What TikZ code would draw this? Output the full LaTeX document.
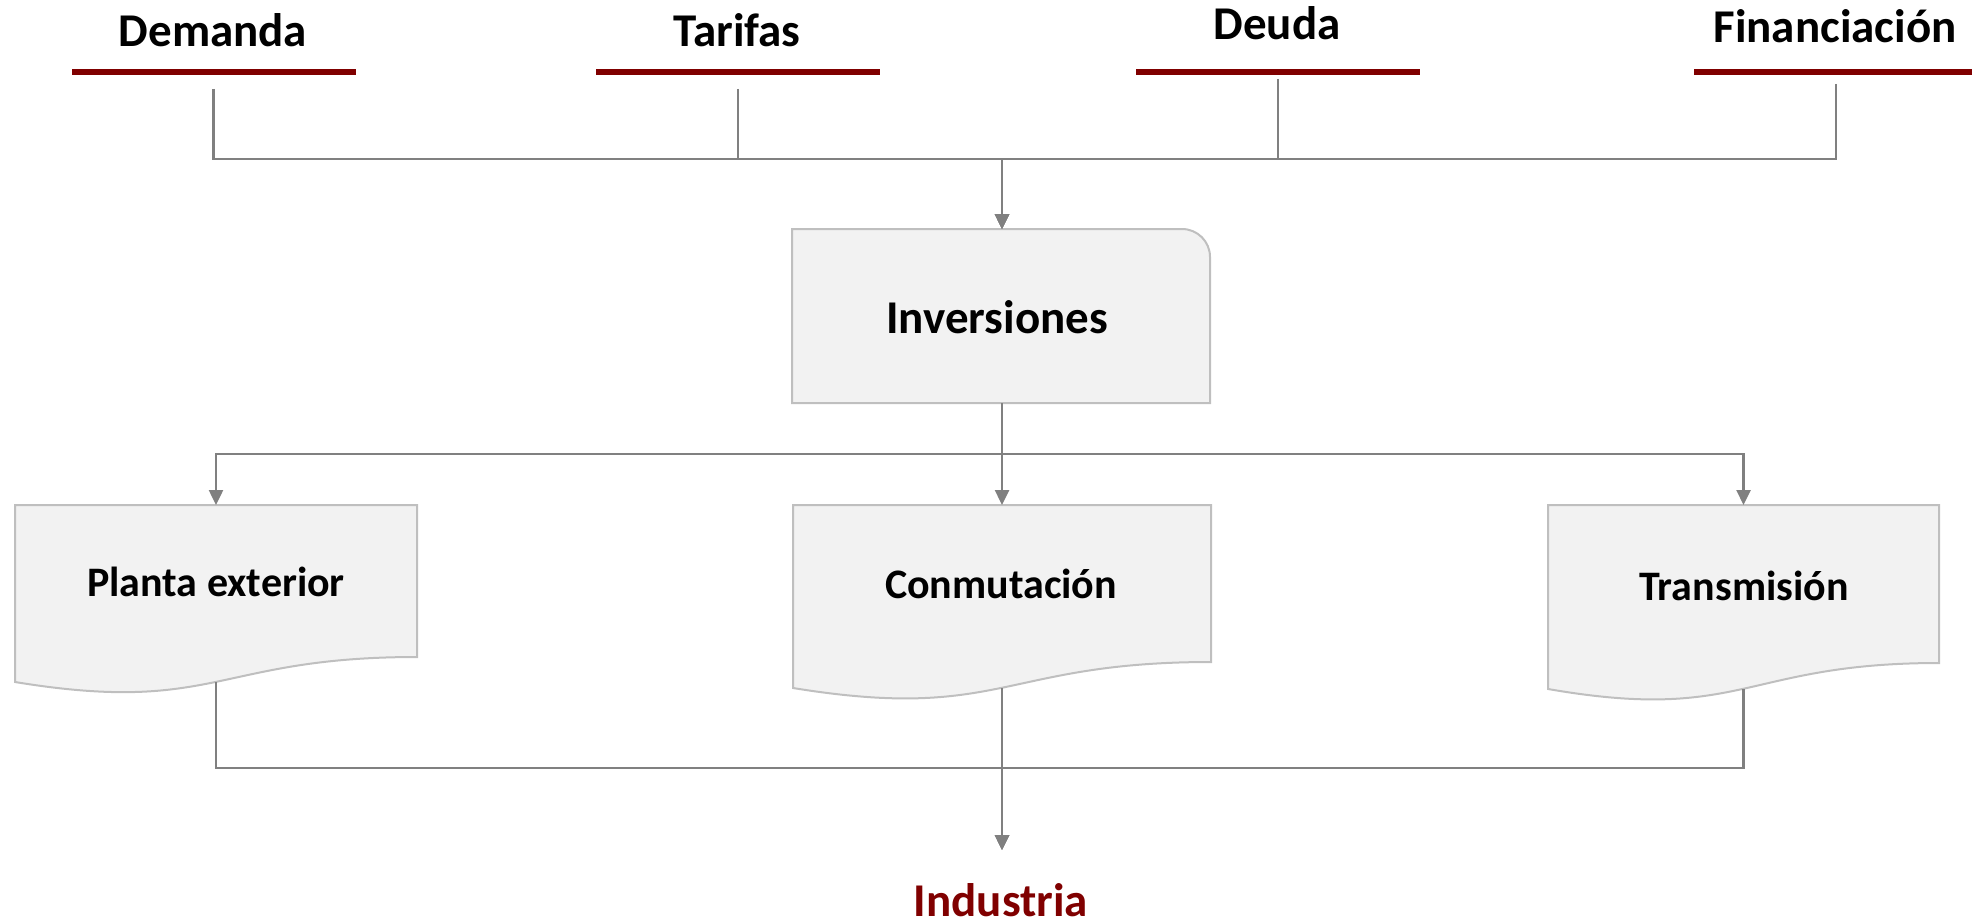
\documentclass[tikz,border=0pt]{standalone}
\usepackage{fontspec}
\setmainfont{Carlito}
\usetikzlibrary{arrows.meta}
\definecolor{darkred}{RGB}{128,0,0}
\definecolor{conncol}{RGB}{128,128,128}
\definecolor{boxfill}{RGB}{242,242,242}
\definecolor{boxline}{RGB}{191,191,191}
\begin{document}
\begin{tikzpicture}[x=1pt,y=-1pt,
  toplabel/.style={font=\fontsize{47}{56}\selectfont\bfseries, anchor=base, inner sep=0pt},
  boxlabel/.style={font=\fontsize{42}{50}\selectfont\bfseries, anchor=base, inner sep=0pt},
  redline/.style={draw=darkred, line width=6pt},
  conn/.style={draw=conncol, line width=2.5pt},
  arr/.style={conn, -{Triangle[length=15pt,width=14pt]}},
  boxshape/.style={draw=boxline, fill=boxfill, line width=2pt}]
\useasboundingbox (0,0) rectangle (1972,923);

% top labels and red rules
\draw[redline] (72,72.5) -- (356,72.5);
\draw[redline] (596,72.5) -- (880,72.5);
\draw[redline] (1136,72.5) -- (1420,72.5);
\draw[redline] (1694,72.5) -- (1972,72.5);
\node[toplabel] (dem) at (213,47) {Demanda};
\node[toplabel] (tar) at (737,47) {Tarifas};
\node[toplabel] (deu) at (1277,40) {Deuda};
\node[toplabel] (fin) at (1835,43) {Financiación};

\coordinate (demS) at (213.5,89);
\coordinate (tarS) at (738,89);
\coordinate (deuS) at (1278,79);
\coordinate (finS) at (1836,84);
\coordinate (busT) at (1002,159);
\coordinate (invN) at (1002,229);
\coordinate (invS) at (1002,403);

% Inversiones box
\draw[boxshape] (792,403) -- (792,229) -- (1182,229) .. controls (1197.5,229) and (1210,241.5) .. (1210,257) -- (1210,403) -- cycle;
\node[toplabel] (inv) at (997,333) {Inversiones};

% document boxes
\draw[boxshape] (15,505) -- (417,505) -- (417,657) .. controls (216,657) and (216,715) .. (15,682) -- cycle;
\draw[boxshape] (793,505) -- (1211,505) -- (1211,662) .. controls (1002,662) and (1002,722) .. (793,688) -- cycle;
\draw[boxshape] (1548,505) -- (1939,505) -- (1939,663) .. controls (1743.5,663) and (1743.5,723) .. (1548,689) -- cycle;
\node[boxlabel] (pla) at (216,596) {Planta exterior};
\node[boxlabel] (con) at (1001,598) {Conmutación};
\node[boxlabel] (tra) at (1744,600) {Transmisión};

\coordinate (plaN) at (216,505);
\coordinate (plaS) at (216,682);
\coordinate (conN) at (1002,505);
\coordinate (conS) at (1002,688);
\coordinate (traN) at (1743.5,505);
\coordinate (traS) at (1743.5,689);
\coordinate (busM) at (1002,454);
\coordinate (busB) at (1002,768);
\coordinate (indN) at (1002,850);

% top connectors
\draw[arr] (demS) |- (busT) -- (invN);
\draw[arr] (tarS) |- (busT) -- (invN);
\draw[arr] (deuS) |- (busT) -- (invN);
\draw[arr] (finS) |- (busT) -- (invN);

% middle connectors
\draw[conn] (invS) -- (busM);
\draw[arr] (busM) -| (plaN);
\draw[arr] (busM) -- (conN);
\draw[arr] (busM) -| (traN);

% bottom connectors
\draw[arr] (plaS) |- (busB) -- (indN);
\draw[arr] (conS) -- (indN);
\draw[arr] (traS) |- (busB) -- (indN);

\node[toplabel, text=darkred, text depth=0pt] (ind) at (1001,916) {Industria};
\end{tikzpicture}
\end{document}
